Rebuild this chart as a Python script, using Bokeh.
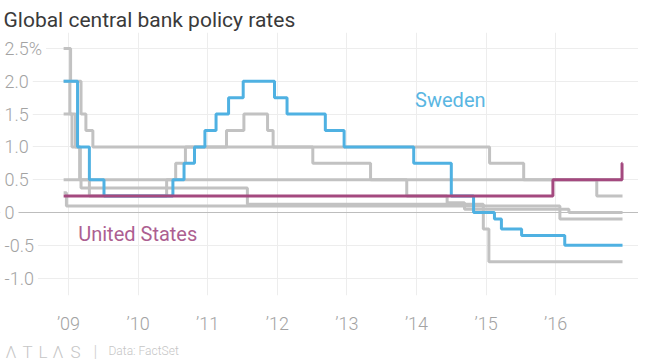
from bokeh.plotting import figure
from bokeh.models import Range1d, FixedTicker, Span, ColumnDataSource
from bokeh.layouts import column
from bokeh.core.properties import value
from bokeh.embed import file_html
from bokeh.resources import INLINE

# ---------------- data (decimal years, policy rate in %) ----------------
series_start = 2008.93
series_end = 2016.96

us_dates = [series_start, 2015.96, 2016.953]
us_rates = [0.25, 0.5, 0.75]

sweden_dates = [series_start, 2009.13, 2009.30, 2009.51, 2010.50, 2010.66, 2010.81,
                2010.96, 2011.12, 2011.30, 2011.51, 2011.96, 2012.14, 2012.69,
                2012.96, 2013.96, 2014.50, 2014.82, 2015.12, 2015.22, 2015.51, 2016.13]
sweden_rates = [2.0, 1.0, 0.5, 0.25, 0.5, 0.75, 1.0,
                1.25, 1.5, 1.75, 2.0, 1.75, 1.5, 1.25,
                1.0, 0.75, 0.25, 0.0, -0.1, -0.25, -0.35, -0.5]

ecb_dates = [series_start, 2009.03, 2009.18, 2009.25, 2009.35, 2011.27, 2011.52,
             2011.86, 2011.94, 2012.51, 2013.34, 2013.86, 2014.44, 2014.69, 2016.19]
ecb_rates = [2.5, 2.0, 1.5, 1.25, 1.0, 1.25, 1.5,
             1.25, 1.0, 0.75, 0.5, 0.25, 0.15, 0.05, 0.0]

uk_dates = [series_start, 2009.02, 2009.10, 2009.17, 2016.59]
uk_rates = [2.0, 1.5, 1.0, 0.5, 0.25]

canada_dates = [series_start, 2009.05, 2009.16, 2009.30, 2010.41, 2010.54, 2010.68,
                2015.05, 2015.54]
canada_rates = [1.5, 1.0, 0.5, 0.25, 0.5, 0.75, 1.0, 0.75, 0.5]

swiss_dates = [series_start, 2009.18, 2011.57, 2014.96, 2015.04]
swiss_rates = [0.5, 0.375, 0.125, -0.25, -0.75]

japan_dates = [series_start, 2008.97, 2016.06]
japan_rates = [0.3, 0.1, -0.1]

year_ticks = [2009, 2010, 2011, 2012, 2013, 2014, 2015, 2016]
year_labels = ["’09", "’10", "’11", "’12", "’13", "’14", "’15", "’16"]

rate_ticks = [2.5, 2.0, 1.5, 1.0, 0.5, 0.0, -0.5, -1.0]
rate_labels = ["2.5%", "2.0", "1.5", "1.0", "0.5", "0", "-0.5", "-1.0"]

title_text = "Global central bank policy rates"
source_text = "Data: FactSet"
logo_letters = ["Λ", "T", "L", "Λ", "S"]

# ---------------- styling ----------------
GREY = "#c2c2c2"
BLUE = "#4fb1e2"
PURPLE = "#a4497f"
GRID = "#ededed"
TICK_COLOR = "#a3a3a3"
FONT = "Roboto"
LIGHT_FONT = "'Roboto Light', Roboto"

PX_PER_YEAR = 69.6
FRAME_W = 638
X0 = 2009 - 68 / PX_PER_YEAR
X1 = X0 + FRAME_W / PX_PER_YEAR
Y0, Y1 = -1.265, 2.744

p = figure(frame_width=FRAME_W, frame_height=263,
           x_range=Range1d(X0, X1), y_range=Range1d(Y0, Y1),
           output_backend="svg", toolbar_location=None,
           min_border_left=0, min_border_right=0, min_border_top=32,
           min_border_bottom=40, background_fill_color="white",
           border_fill_color="white")
p.outline_line_color = None

p.title.text = title_text
p.title.text_font = FONT
p.title.text_font_size = "21px"
p.title.text_font_style = "normal"
p.title.text_color = "#3a3a3a"
p.title.standoff = 1
p.title.offset = 3

p.yaxis.visible = False
xa = p.xaxis[0]
xa.ticker = FixedTicker(ticks=year_ticks)
xa.major_label_overrides = {t: l for t, l in zip(year_ticks, year_labels)}
xa.axis_line_color = None
xa.major_tick_line_color = None
xa.minor_tick_line_color = None
xa.major_label_text_font = LIGHT_FONT
xa.major_label_text_font_size = "18px"
xa.major_label_text_color = TICK_COLOR
xa.major_label_standoff = 11

p.xgrid.ticker = FixedTicker(ticks=year_ticks)
p.xgrid.grid_line_color = GRID
p.ygrid.ticker = FixedTicker(ticks=[t for t in rate_ticks if t != 0])
p.ygrid.grid_line_color = GRID

zero = Span(location=0, dimension="width", line_color="#bdbdbd", line_width=1,
            level="underlay")
p.add_layout(zero)


def stepped(dates, rates):
    return dates + [series_end], rates + [rates[-1]]


for d, r in [(ecb_dates, ecb_rates), (uk_dates, uk_rates),
             (canada_dates, canada_rates), (swiss_dates, swiss_rates),
             (japan_dates, japan_rates)]:
    xs, ys = stepped(d, r)
    p.step(xs, ys, mode="after", line_color=GREY, line_width=3)

xs, ys = stepped(sweden_dates, sweden_rates)
p.step(xs, ys, mode="after", line_color=BLUE, line_width=3)
xs, ys = stepped(us_dates, us_rates)
p.step(xs, ys, mode="after", line_color=PURPLE, line_width=3)

# y tick labels, left aligned inside the frame
lab_src = ColumnDataSource(dict(x=[X0] * len(rate_ticks), y=rate_ticks, t=rate_labels))
p.text(x="x", y="y", text="t", source=lab_src, text_align="left",
       text_baseline="middle", text_font=value(LIGHT_FONT), text_font_size="18px",
       text_color=TICK_COLOR, background_fill_color="white", padding=4)

p.text(x=[2013.98], y=[1.72], text=["Sweden"], text_font=value(FONT),
       text_font_size="20px", text_color="#5ab6e2", text_baseline="alphabetic")
p.text(x=[2009.14], y=[-0.32], text=["United States"], text_font=value(FONT),
       text_font_size="20px", text_color="#ad5f91", text_baseline="alphabetic")

# ---------------- footer ----------------
FOOT_H = 24
f = figure(width=FRAME_W, height=FOOT_H, x_range=Range1d(0, FRAME_W),
           y_range=Range1d(0, FOOT_H),
           output_backend="svg", toolbar_location=None,
           min_border_left=0, min_border_right=0, min_border_top=0, min_border_bottom=0)
f.axis.visible = False
f.grid.visible = False
f.outline_line_color = None
f.text(x=[5, 22, 38, 52, 70], y=[9] * 5, text=logo_letters, text_font=value(LIGHT_FONT),
       text_font_size="17px", text_color="#c6c6c6", text_baseline="middle")
f.text(x=[93], y=[10], text=["|"], text_font=value(LIGHT_FONT), text_font_size="17px",
       text_color="#cfcfcf", text_baseline="middle")
f.text(x=[108], y=[10], text=[source_text], text_font=value(LIGHT_FONT),
       text_font_size="12px", text_color="#c6c6c6", text_baseline="middle")

layout = column(p, f, spacing=0)
open("out.html", "w").write(file_html(layout, INLINE))
